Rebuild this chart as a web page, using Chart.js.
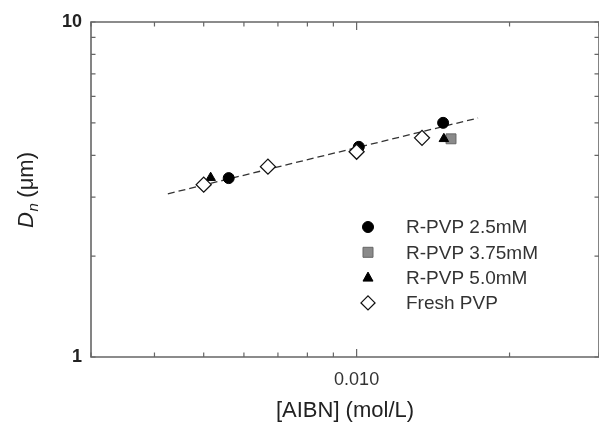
<!DOCTYPE html>
<html>
<head>
<meta charset="utf-8">
<script src="https://cdn.jsdelivr.net/npm/chart.js@4.4.1/dist/chart.umd.min.js"></script>
<style>
  html, body { margin: 0; padding: 0; background: #fff; }
  #wrap { width: 599px; height: 427px; }
</style>
</head>
<body>
<div id="wrap"><canvas id="c" width="599" height="427"></canvas></div>
<script>
// ---- data ----
const seriesNames = ['R-PVP 2.5mM', 'R-PVP 3.75mM', 'R-PVP 5.0mM', 'Fresh PVP'];
const rpvp25_x = [0.0056, 0.0101, 0.0148];
const rpvp25_y = [3.42, 4.24, 5.00];
const rpvp375_x = [0.01534];
const rpvp375_y = [4.48];
const rpvp50_x = [0.00516, 0.01485];
const rpvp50_y = [3.43, 4.48];
const fresh_x = [0.0050, 0.00669, 0.0100, 0.01345];
const fresh_y = [3.27, 3.70, 4.10, 4.51];
const fit_x = [0.00425, 0.01734];
const fit_y = [3.07, 5.17];
const xTickValues = [0.003, 0.004, 0.005, 0.006, 0.007, 0.008, 0.009, 0.01, 0.02, 0.03];
const xTickLabels = { 0.01: '0.010' };
const yTickValues = [1, 2, 3, 4, 5, 6, 7, 8, 9, 10];
const yTickLabels = { 1: '1', 10: '10' };
const xTitle = '[AIBN] (mol/L)';
const yTitleMain = 'D';
const yTitleSub = 'n';
const yTitleRest = ' (\u03BCm)';

const pts = (xs, ys) => xs.map((x, i) => ({ x: x, y: ys[i] }));

const FONT = "'Liberation Sans', Arial, Helvetica, sans-serif";
const AXIS_COLOR = '#666';

// frame + inward ticks, drawn from the scales
const framePlugin = {
  id: 'frame',
  afterDraw(chart) {
    const ctx = chart.ctx, a = chart.chartArea;
    const xs = chart.scales.x, ys = chart.scales.y;
    ctx.save();
    ctx.strokeStyle = AXIS_COLOR;
    ctx.lineWidth = 1.6;
    ctx.beginPath();
    ctx.rect(a.left, a.top, a.right - a.left, a.bottom - a.top);
    ctx.stroke();
    ctx.lineWidth = 1.2;
    ctx.beginPath();
    xTickValues.forEach(v => {
      const px = xs.getPixelForValue(v);
      const major = (v === 0.01);
      const len = major ? 8 : 4.5;
      ctx.moveTo(px, a.bottom); ctx.lineTo(px, a.bottom - len);
      ctx.moveTo(px, a.top); ctx.lineTo(px, a.top + len);
    });
    yTickValues.forEach(v => {
      const py = ys.getPixelForValue(v);
      const len = 4.5;
      ctx.moveTo(a.left, py); ctx.lineTo(a.left + len, py);
      ctx.moveTo(a.right, py); ctx.lineTo(a.right - len, py);
    });
    ctx.stroke();
    ctx.restore();
  }
};

// y title with italic D and subscript n
const yTitlePlugin = {
  id: 'ytitle',
  afterDraw(chart) {
    const ctx = chart.ctx;
    const cy = 190;
    ctx.save();
    ctx.translate(26, cy);
    ctx.rotate(-Math.PI / 2);
    ctx.fillStyle = '#222';
    ctx.textBaseline = 'alphabetic';
    const f1 = 'italic 22px ' + FONT, f2 = 'italic 15px ' + FONT, f3 = '22px ' + FONT;
    ctx.font = f1; const w1 = ctx.measureText(yTitleMain).width;
    ctx.font = f2; const w2 = ctx.measureText(yTitleSub).width;
    ctx.font = f3; const w3 = ctx.measureText(yTitleRest).width;
    let x = -(w1 + w2 + w3) / 2;
    const base = 7;
    ctx.font = f1; ctx.fillText(yTitleMain, x, base); x += w1;
    ctx.font = f2; ctx.fillText(yTitleSub, x + 0.5, base + 5); x += w2;
    ctx.font = f3; ctx.fillText(yTitleRest, x, base);
    ctx.restore();
  }
};

// legend inside the plot
const legendPlugin = {
  id: 'innerLegend',
  afterDraw(chart) {
    const ctx = chart.ctx;
    const mx = 368, tx = 406, y0 = 227, dy = 25.3;
    ctx.save();
    ctx.font = '19px ' + FONT;
    ctx.textBaseline = 'middle';
    ctx.textAlign = 'left';
    seriesNames.forEach((name, i) => {
      const ds = chart.data.datasets[i];
      const y = y0 + i * dy;
      ctx.fillStyle = ds.backgroundColor;
      ctx.strokeStyle = ds.borderColor;
      ctx.lineWidth = ds.borderWidth;
      ctx.beginPath();
      if (ds.pointStyle === 'circle') {
        ctx.arc(mx, y, 5.5, 0, Math.PI * 2);
      } else if (ds.pointStyle === 'rect') {
        ctx.rect(mx - 5, y - 5, 10, 10);
      } else if (ds.pointStyle === 'triangle') {
        ctx.moveTo(mx, y - 5.5); ctx.lineTo(mx + 5, y + 3.5); ctx.lineTo(mx - 5, y + 3.5); ctx.closePath();
      } else {
        ctx.moveTo(mx, y - 7); ctx.lineTo(mx + 7, y); ctx.lineTo(mx, y + 7); ctx.lineTo(mx - 7, y); ctx.closePath();
      }
      ctx.fill(); ctx.stroke();
      ctx.fillStyle = '#333';
      ctx.fillText(name, tx, y + 1);
    });
    ctx.restore();
  }
};

new Chart(document.getElementById('c'), {
  type: 'scatter',
  data: {
    datasets: [
      { label: seriesNames[0], data: pts(rpvp25_x, rpvp25_y), pointStyle: 'circle', pointRadius: 5.5,
        backgroundColor: '#000', borderColor: '#000', borderWidth: 1, order: 3 },
      { label: seriesNames[1], data: pts(rpvp375_x, rpvp375_y), pointStyle: 'rect', pointRadius: 7,
        backgroundColor: '#8a8a8a', borderColor: '#666', borderWidth: 1, order: 4 },
      { label: seriesNames[2], data: pts(rpvp50_x, rpvp50_y), pointStyle: 'triangle', pointRadius: 5.5,
        backgroundColor: '#000', borderColor: '#000', borderWidth: 1, order: 2 },
      { label: seriesNames[3], data: pts(fresh_x, fresh_y), pointStyle: 'rectRot', pointRadius: 7.5,
        backgroundColor: '#fff', borderColor: '#111', borderWidth: 1.3, order: 1 },
      { type: 'line', label: 'fit', data: pts(fit_x, fit_y), borderColor: '#333', borderWidth: 1.3,
        borderDash: [7, 4], pointRadius: 0, fill: false, order: 10 }
    ]
  },
  options: {
    responsive: false,
    animation: false,
    events: [],
    layout: { autoPadding: false, padding: { top: 22, right: 0, left: 0, bottom: 0 } },
    plugins: { legend: { display: false }, tooltip: { enabled: false } },
    scales: {
      x: {
        type: 'logarithmic', position: 'bottom', min: 0.003, max: 0.03,
        grid: { display: false, drawTicks: false },
        border: { display: false },
        afterBuildTicks: s => { s.ticks = xTickValues.map(v => ({ value: v })); },
        afterFit: s => { s.height = 70; s.paddingLeft = 0; s.paddingRight = 0; },
        ticks: {
          autoSkip: false, maxRotation: 0, padding: 12, color: '#333',
          font: { family: FONT, size: 18 },
          callback: v => xTickLabels[v] || ''
        },
        title: { display: true, text: xTitle, color: '#222', font: { family: FONT, size: 22 },
                 padding: { top: 0, bottom: 3 } }
      },
      y: {
        type: 'logarithmic', position: 'left', min: 1, max: 10,
        grid: { display: false, drawTicks: false },
        border: { display: false },
        afterBuildTicks: s => { s.ticks = yTickValues.map(v => ({ value: v })); },
        afterFit: s => { s.width = 91; s.paddingTop = 0; s.paddingBottom = 0; },
        ticks: {
          autoSkip: false, padding: 9, color: '#222',
          font: { family: FONT, size: 18, weight: 'bold' },
          callback: v => yTickLabels[v] || ''
        }
      }
    }
  },
  plugins: [framePlugin, yTitlePlugin, legendPlugin]
});
</script>
</body>
</html>
